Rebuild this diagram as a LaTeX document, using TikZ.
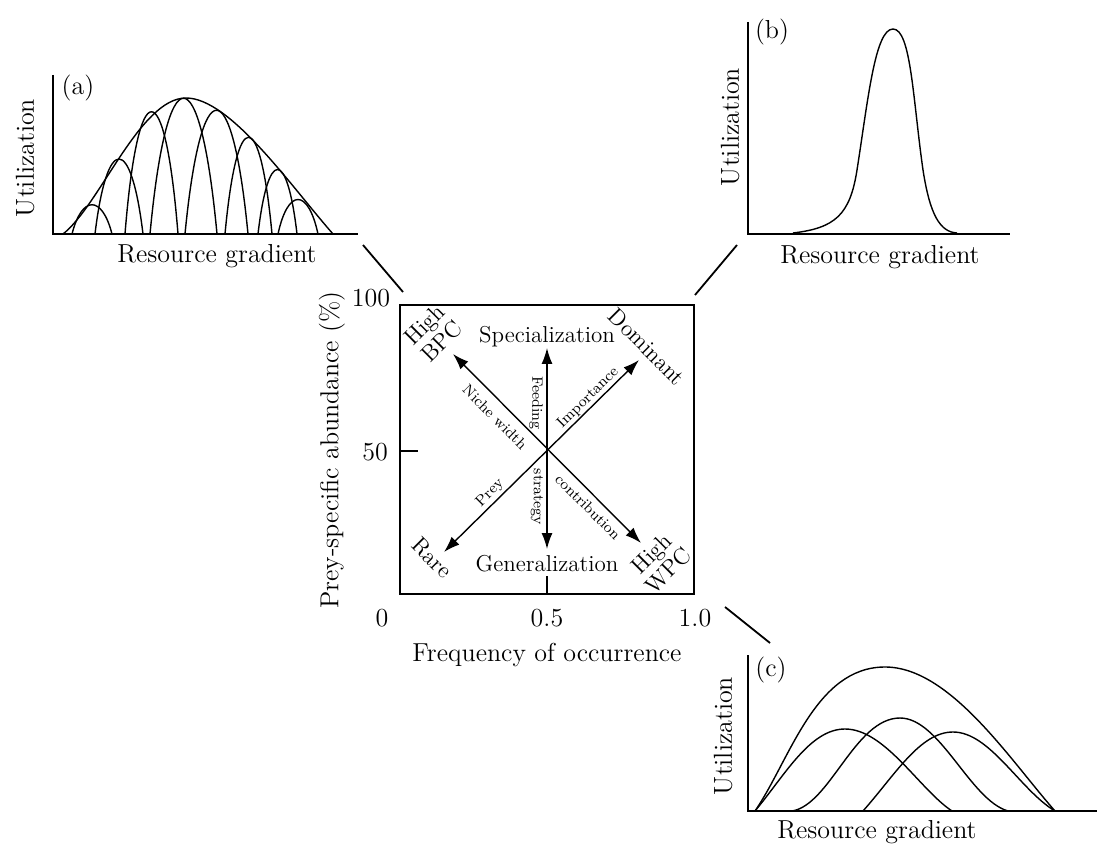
\documentclass[tikz,border=0pt]{standalone}
\usetikzlibrary{arrows.meta}
\begin{document}
\begin{tikzpicture}[
    x=0.5pt, y=-0.5pt,
    curve/.style={line width=0.7pt},
    axis/.style={line width=0.9pt},
    frame/.style={draw, line width=0.9pt, minimum width=147pt, minimum height=144.5pt, inner sep=0pt},
    lbl/.style={font=\fontsize{13}{15}\selectfont, inner sep=1pt},
    big/.style={font=\fontsize{11.5}{12}\selectfont, align=center, inner sep=1pt},
    tiny/.style={font=\fontsize{7.5}{8}\selectfont, inner sep=0.5pt},
    arrow/.style={{Latex[length=8pt,width=5.5pt]}-{Latex[length=8pt,width=5.5pt]}, line width=0.7pt}
]
\useasboundingbox (0,0) rectangle (1098,845);

% Central plot
\node[frame] (box) at (547,449.5) {};
\draw[axis] (400,451) -- (418,451);
\draw[axis] (547,594) -- (547,576);
\node[lbl] (y100) at (371,298) {100};
\node[lbl] (y50) at (375,452) {50};
\node[lbl] (zero) at (382,618) {0};
\node[lbl] (x05) at (547,618) {0.5};
\node[lbl] (x10) at (695,618) {1.0};
\node[lbl] (xtitle) at (547,655) {Frequency of occurrence};
\node[lbl, rotate=90] (ytitle) at (332,450) {Prey-specific abundance (\%)};

% Arrows
\coordinate (ctr) at (547,450);
\coordinate (up) at (547,348);
\coordinate (down) at (547,549);
\coordinate (nw) at (453,354);
\coordinate (se) at (641,543);
\coordinate (ne) at (639,360);
\coordinate (sw) at (444,552);
\draw[arrow] (down) -- (up);
\draw[arrow] (se) -- (nw);
\draw[arrow] (sw) -- (ne);

\node[big] (spec) at (547,337) {Specialization};
\node[big] (gen) at (547,564) {Generalization};
\node[big, rotate=45] (bpc) at (433,333) {High\\BPC};
\node[big, rotate=-45] (dom) at (647,347) {Dominant};
\node[big, rotate=-45] (rare) at (432,558) {Rare};
\node[big, rotate=45] (wpc) at (660,562) {High\\WPC};

\node[tiny, rotate=-45] (niche) at (495,417) {Niche width};
\node[tiny, rotate=-45] (contrib) at (588,507) {contribution};
\node[tiny, rotate=45] (imp) at (588,398) {Importance};
\node[tiny, rotate=45] (prey) at (490,493) {Prey};
\node[tiny, rotate=-90] (feed) at (536,403) {Feeding};
\node[tiny, rotate=-90] (strat) at (537,497) {strategy};

% Links to the panels
\coordinate (a-link) at (363,245);
\coordinate (box-a) at (403,292);
\coordinate (b-link) at (737,245);
\coordinate (box-b) at (695,295);
\coordinate (c-link) at (770,643);
\coordinate (box-c) at (725,607);
\draw[axis] (box-a) -- (a-link);
\draw[axis] (box-b) -- (b-link);
\draw[axis] (box-c) -- (c-link);

% Panel (a)
\draw[axis] (53,75) -- (53,234) -- (358,234);
\node[lbl] (a-tag) at (78,88) {(a)};
\node[lbl, rotate=90] (a-util) at (25,158) {Utilization};
\node[lbl] (a-grad) at (217,256) {Resource gradient};
\draw[curve] (63,234) .. controls (100,205) and (140,98) .. (186,98) .. controls (230,98) and (290,185) .. (333,234);
\draw[curve] (72,234) .. controls (82,195) and (102,195) .. (112,234);
\draw[curve] (95,234) .. controls (107,134) and (131,134) .. (143,234);
\draw[curve] (125,234) .. controls (138,71) and (165,71) .. (178,234);
\draw[curve] (150,234) .. controls (167,53) and (200,53) .. (217,234);
\draw[curve] (185,234) .. controls (201,69) and (232,69) .. (248,234);
\draw[curve] (225,234) .. controls (237,105) and (260,105) .. (272,234);
\draw[curve] (258,234) .. controls (268,148) and (287,148) .. (297,234);
\draw[curve] (278,234) .. controls (288,188) and (308,188) .. (318,234);

% Panel (b)
\draw[axis] (748,22) -- (748,234) -- (1010,234);
\node[lbl] (b-tag) at (772,32) {(b)};
\node[lbl, rotate=90] (b-util) at (730,127) {Utilization};
\node[lbl] (b-grad) at (880,257) {Resource gradient};
\draw[curve] (793,233) .. controls (835,228) and (850,215) .. (857,170) .. controls (868,100) and (875,29) .. (893,29) .. controls (911,29) and (913,100) .. (923,170) .. controls (930,215) and (940,232) .. (957,233);

% Panel (c)
\draw[axis] (748,655) -- (748,811) -- (1097,811);
\node[lbl] (c-tag) at (771,670) {(c)};
\node[lbl, rotate=90] (c-util) at (723,736) {Utilization};
\node[lbl] (c-grad) at (877,832) {Resource gradient};
\draw[curve] (755,811) .. controls (790,760) and (815,667) .. (885,667) .. controls (950,667) and (1010,760) .. (1055,811);
\draw[curve] (755,811) .. controls (785,775) and (810,729) .. (845,729) .. controls (885,729) and (920,790) .. (952,811);
\draw[curve] (792,811) .. controls (830,805) and (855,718) .. (900,718) .. controls (940,718) and (970,800) .. (1008,811);
\draw[curve] (863,811) .. controls (895,775) and (920,732) .. (953,732) .. controls (990,732) and (1020,790) .. (1055,811);

\end{tikzpicture}
\end{document}
